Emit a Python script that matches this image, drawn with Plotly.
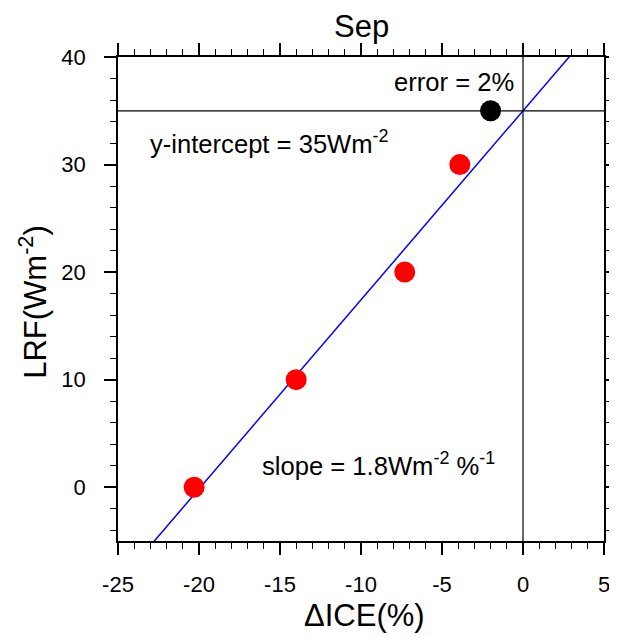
import numpy as np
import plotly.graph_objects as go

# data
ice_red = [-20.3, -14.0, -7.3, -3.9]
lrf_red = [0, 10, 20, 30]
ice_black = [-2.0]
lrf_black = [35]
x_ticks = [-25, -20, -15, -10, -5, 0, 5]
y_ticks = [0, 10, 20, 30, 40]
y_intercept = 35.0

slope, _ = np.polyfit(ice_red, lrf_red, 1)
line_x = np.array([-25.0, 5.0])
line_y = slope * line_x + y_intercept

font = "Liberation Sans, Arial, Helvetica, sans-serif"
fig = go.Figure()
fig.add_trace(go.Scatter(x=line_x, y=line_y, mode="lines",
                         line=dict(color="blue", width=1.5), showlegend=False))
fig.add_trace(go.Scatter(x=ice_red, y=lrf_red, mode="markers",
                         marker=dict(color="red", size=21, line=dict(width=0)), showlegend=False))
fig.add_trace(go.Scatter(x=ice_black, y=lrf_black, mode="markers",
                         marker=dict(color="black", size=21, line=dict(width=0)), showlegend=False))

fig.add_hline(y=y_intercept, line=dict(color="black", width=1.2))
fig.add_vline(x=0, line=dict(color="black", width=1.2))

axis_common = dict(showgrid=False, zeroline=False, showline=True, linecolor="black",
                   linewidth=1.6, mirror="allticks", ticks="outside", ticklen=12,
                   tickwidth=1.6, tickcolor="black", automargin=False,
                   tickfont=dict(family=font, size=22, color="black"))
fig.update_xaxes(range=[-25, 5], tickvals=x_ticks, ticktext=[str(v) for v in x_ticks],
                 minor=dict(dtick=1, ticks="outside", ticklen=6, tickwidth=1.2, tickcolor="black"),
                 ticklabelstandoff=11, **axis_common)
fig.update_yaxes(range=[-5, 40], tickvals=y_ticks, ticktext=[str(v) for v in y_ticks],
                 minor=dict(dtick=2, tick0=0, ticks="outside", ticklen=6, tickwidth=1.2, tickcolor="black"),
                 ticklabelstandoff=14, **axis_common)

ann_font = dict(family=font, size=25.6, color="black")
fig.add_annotation(x=-15.62, y=32.1, text="y-intercept = 35Wm<sup>-2</sup>", showarrow=False,
                   font=ann_font, xanchor="center", yanchor="middle")
fig.add_annotation(x=-4.26, y=37.68, text="error = 2%", showarrow=False,
                   font=ann_font, xanchor="center", yanchor="middle")
fig.add_annotation(x=-8.89, y=2.16, text="slope = 1.8Wm<sup>-2</sup> %<sup>-1</sup>", showarrow=False,
                   font=ann_font, xanchor="center", yanchor="middle")

# title and axis titles
fig.add_annotation(xref="paper", yref="paper", x=0.5, y=1.064, text="Sep", showarrow=False,
                   font=dict(family=font, size=31, color="black"), xanchor="center", yanchor="middle")
fig.add_annotation(xref="paper", yref="paper", x=0.508, y=-0.153, text="ΔICE(%)", showarrow=False,
                   font=dict(family=font, size=31, color="black"), xanchor="center", yanchor="middle")
fig.add_annotation(xref="paper", yref="paper", x=-0.175, y=0.494, text="LRF(Wm<sup>-2</sup>)",
                   showarrow=False, textangle=-90,
                   font=dict(family=font, size=31, color="black"), xanchor="center", yanchor="middle")

# the page body has an 8px margin, so the figure is drawn 8px smaller and offset
fig.update_layout(
    width=609, height=629,
    margin=dict(l=110, r=13, t=49, b=96),
    paper_bgcolor="white", plot_bgcolor="white",
)
fig.write_html("out.html")
